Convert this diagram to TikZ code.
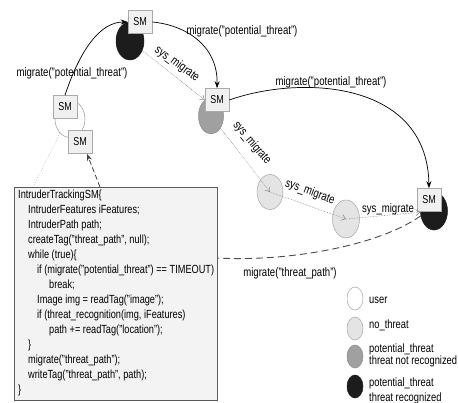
\documentclass[tikz,border=0pt]{standalone}
\usepackage{fontspec}
\setmainfont{Liberation Sans}[FakeStretch=0.78]
\usetikzlibrary{shapes.geometric,arrows.meta}
\definecolor{blk}{HTML}{1C1C1C}
\definecolor{midg}{HTML}{A0A0A0}
\definecolor{lightg}{HTML}{E4E4E4}
\definecolor{smfill}{HTML}{F0F0F0}
\definecolor{smline}{HTML}{AAAAAA}
\definecolor{codefill}{HTML}{F3F3F3}
\definecolor{codeline}{HTML}{5A5A5A}
\begin{document}
\begin{tikzpicture}[x=1pt,y=-1pt,
  smbox/.style={draw=smline, fill=smfill, line width=0.6pt, minimum width=24pt, minimum height=23pt, inner sep=0pt, font=\fontsize{11.5}{13}\selectfont},
  blob/.style={ellipse, inner sep=0pt, line width=0.5pt},
  lbl/.style={font=\fontsize{12.3}{14}\selectfont, inner sep=0pt},
  solidarr/.style={draw=black, line width=0.7pt, -{Stealth[length=7pt,width=5pt]}},
  sysarr/.style={draw=black!45, densely dotted, line width=0.6pt, -{Straight Barb[length=4pt,width=6pt]}},
  longdash/.style={draw=black!70, dash pattern=on 7pt off 4pt, line width=0.9pt},
  codearr/.style={draw=black!75, dash pattern=on 5pt off 3pt, line width=0.8pt, -{Stealth[length=7pt,width=5pt]}},
  userline/.style={draw=black!35, dotted, line width=0.6pt},
  legtext/.style={font=\fontsize{12}{14}\selectfont, inner sep=0pt, anchor=west, align=left}
]
\useasboundingbox (0,0) rectangle (458,403);

% ellipses
\node[blob, draw=black!40, fill=white, minimum width=30pt, minimum height=37pt] (user) at (70,119) {};
\node[blob, draw=blk, fill=blk, minimum width=28pt, minimum height=38pt] (blk1) at (130,41) {};
\node[blob, draw=black!45, fill=midg, minimum width=25pt, minimum height=36pt] (gry) at (211,116) {};
\node[blob, draw=black!35, fill=lightg, minimum width=26pt, minimum height=35pt] (lt1) at (270,192) {};
\node[blob, draw=black!35, fill=lightg, minimum width=27pt, minimum height=38pt] (lt2) at (346,219) {};
\node[blob, draw=blk, fill=blk, minimum width=27pt, minimum height=38pt] (blk2) at (434,211) {};

% SM boxes
\node[smbox] (sm1) at (65,107) {SM};
\node[smbox] (sm2) at (80,142) {SM};
\node[smbox] (smtop) at (140,22) {SM};
\node[smbox] (smmid) at (217,100) {SM};
\node[smbox] (smright) at (429,200) {SM};

% code box
\node[draw=codeline, fill=codefill, line width=0.7pt, anchor=north west, minimum width=203pt, minimum height=213pt, inner sep=0pt] (code) at (14,187) {};
\node[anchor=north west, align=left, inner sep=0pt, font=\fontsize{11.8}{15}\selectfont] (codetext) at (18,190) {%
IntruderTrackingSM\{\\
\hspace*{10pt}IntruderFeatures iFeatures;\\
\hspace*{10pt}IntruderPath path;\\
\hspace*{10pt}createTag("threat\_path", null);\\
\hspace*{10pt}while (true)\{\\
\hspace*{19pt}if (migrate("potential\_threat") == TIMEOUT)\\
\hspace*{31pt}break;\\
\hspace*{19pt}Image img = readTag("image");\\
\hspace*{19pt}if (threat\_recognition(img, iFeatures)\\
\hspace*{31pt}path += readTag("location");\\
\hspace*{10pt}\}\\
\hspace*{10pt}migrate("threat\_path");\\
\hspace*{10pt}writeTag("threat\_path", path);\\
\}};

% coordinates for free ends
\coordinate (codeA) at ([xshift=86pt]code.north west);
\coordinate (codeB) at ([xshift=19pt]code.north west);
\coordinate (codeC) at ([yshift=-71pt]code.north east);

% connectors
\draw[solidarr] (sm1.north) .. controls (80,50) and (100,22) .. (smtop.west);
\draw[solidarr] (smtop.east) .. controls (185,25) and (218,45) .. (smmid.north);
\draw[solidarr] (smmid.east) .. controls (300,75) and (427,80) .. (smright.north);

\draw[sysarr] (blk1) -- (smmid.west);
\draw[sysarr] (gry) -- (lt1.center);
\draw[sysarr] (lt1.center) -- (lt2.center);
\draw[sysarr] (lt2.center) -- (blk2);

\draw[longdash] (blk2.200) .. controls (380,245) and (290,262) .. (codeC);
\draw[codearr] (codeA) -- ([xshift=7pt]sm2.south);
\draw[userline] (user.235) -- (codeB);

% labels
\node[lbl] (lblA) at (72,73) {migrate("potential\_threat")};
\node[lbl] (lblB) at (242,31) {migrate("potential\_threat")};
\node[lbl] (lblC) at (331,82) {migrate("potential\_threat")};
\node[lbl] (lblD) at (290,273) {migrate("threat\_path")};
\node[lbl, rotate=-36] (sys1) at (177,64) {sys\_migrate};
\node[lbl, rotate=-50] (sys2) at (252,143) {sys\_migrate};
\node[lbl, rotate=-20] (sys3) at (310,192) {sys\_migrate};
\node[lbl] (sys4) at (388,209) {sys\_migrate};

% legend
\node[blob, draw=black!35, fill=white, minimum width=16pt, minimum height=23pt] (lg1) at (355,298.5) {};
\node[blob, draw=black!35, fill=lightg, minimum width=16pt, minimum height=23pt] (lg2) at (355,328.5) {};
\node[blob, draw=black!45, fill=midg, minimum width=16pt, minimum height=23pt] (lg3) at (355,356.5) {};
\node[blob, draw=blk, fill=blk, minimum width=16pt, minimum height=23pt] (lg4) at (355,386.5) {};
\node[legtext] (lt1txt) at (369,300) {user};
\node[legtext] (lt2txt) at (369,325) {no\_threat};
\node[legtext, font=\fontsize{12}{12}\selectfont] (lt3txt) at (369,355) {potential\_threat\\threat not recognized};
\node[legtext, font=\fontsize{12}{15}\selectfont] (lt4txt) at (369,390.5) {potential\_threat\\threat recognized};
\end{tikzpicture}
\end{document}
